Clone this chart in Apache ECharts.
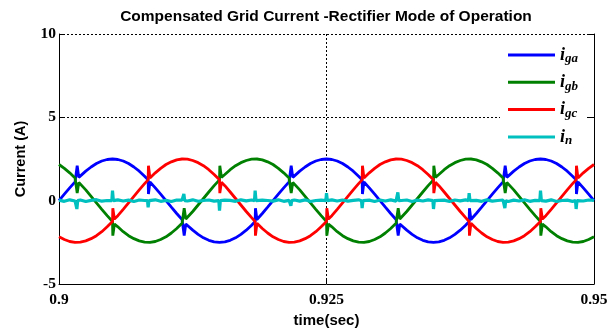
<!DOCTYPE html>
<html>
<head>
<meta charset="utf-8">
<script src="https://cdn.jsdelivr.net/npm/echarts@6/dist/echarts.min.js"></script>
<style>html,body{margin:0;padding:0;background:#fff}#c{width:612px;height:333px}</style>
</head>
<body>
<div id="c"></div>
<script>
// sampling grid of the waveforms (sec)
const timeStart = 0.9;
const timeStep = 0.0005;
const xTicks = [0.9, 0.925, 0.95];
const yTicks = [-5, 0, 5, 10];

// grid current phase a (A), read every 0.5 ms
const iga = [
 0, 0.39, 0.77, 1.13, 1.47, 1.77, 2.02, 2.23, 2.38, 2.47, 2.50, 2.47, 2.38, 2.23, 2.02, 1.77, 1.47, 1.13, 0.77, 0.39,
 0, -0.39, -0.77, -1.13, -1.47, -1.77, -2.02, -2.23, -2.38, -2.47, -2.50, -2.47, -2.38, -2.23, -2.02, -1.77, -1.47, -1.13, -0.77, -0.39,
 0, 0.39, 0.77, 1.13, 1.47, 1.77, 2.02, 2.23, 2.38, 2.47, 2.50, 2.47, 2.38, 2.23, 2.02, 1.77, 1.47, 1.13, 0.77, 0.39,
 0, -0.39, -0.77, -1.13, -1.47, -1.77, -2.02, -2.23, -2.38, -2.47, -2.50, -2.47, -2.38, -2.23, -2.02, -1.77, -1.47, -1.13, -0.77, -0.39,
 0, 0.39, 0.77, 1.13, 1.47, 1.77, 2.02, 2.23, 2.38, 2.47, 2.50, 2.47, 2.38, 2.23, 2.02, 1.77, 1.47, 1.13, 0.77, 0.39, 0
];
// phase b
const igb = [
 2.17, 1.94, 1.67, 1.36, 1.02, 0.65, 0.26, -0.13, -0.52, -0.90, -1.25, -1.57, -1.86, -2.10, -2.28, -2.41, -2.49, -2.50, -2.45, -2.33,
 -2.17, -1.94, -1.67, -1.36, -1.02, -0.65, -0.26, 0.13, 0.52, 0.90, 1.25, 1.57, 1.86, 2.10, 2.28, 2.41, 2.49, 2.50, 2.45, 2.33,
 2.17, 1.94, 1.67, 1.36, 1.02, 0.65, 0.26, -0.13, -0.52, -0.90, -1.25, -1.57, -1.86, -2.10, -2.28, -2.41, -2.49, -2.50, -2.45, -2.33,
 -2.17, -1.94, -1.67, -1.36, -1.02, -0.65, -0.26, 0.13, 0.52, 0.90, 1.25, 1.57, 1.86, 2.10, 2.28, 2.41, 2.49, 2.50, 2.45, 2.33,
 2.17, 1.94, 1.67, 1.36, 1.02, 0.65, 0.26, -0.13, -0.52, -0.90, -1.25, -1.57, -1.86, -2.10, -2.28, -2.41, -2.49, -2.50, -2.45, -2.33, -2.17
];
// phase c
const igc = [
 -2.17, -2.33, -2.45, -2.50, -2.49, -2.41, -2.28, -2.10, -1.86, -1.57, -1.25, -0.90, -0.52, -0.13, 0.26, 0.65, 1.02, 1.36, 1.67, 1.94,
 2.17, 2.33, 2.45, 2.50, 2.49, 2.41, 2.28, 2.10, 1.86, 1.57, 1.25, 0.90, 0.52, 0.13, -0.26, -0.65, -1.02, -1.36, -1.67, -1.94,
 -2.17, -2.33, -2.45, -2.50, -2.49, -2.41, -2.28, -2.10, -1.86, -1.57, -1.25, -0.90, -0.52, -0.13, 0.26, 0.65, 1.02, 1.36, 1.67, 1.94,
 2.17, 2.33, 2.45, 2.50, 2.49, 2.41, 2.28, 2.10, 1.86, 1.57, 1.25, 0.90, 0.52, 0.13, -0.26, -0.65, -1.02, -1.36, -1.67, -1.94,
 -2.17, -2.33, -2.45, -2.50, -2.49, -2.41, -2.28, -2.10, -1.86, -1.57, -1.25, -0.90, -0.52, -0.13, 0.26, 0.65, 1.02, 1.36, 1.67, 1.94, 2.17
];
// neutral current (small ripple around zero)
const ineu = [
 0.03, -0.04, 0.05, -0.02, 0.04, -0.05, 0.02, 0.06, -0.03, 0.01, -0.04, 0.05, -0.02, 0.03, -0.05, 0.04, 0.01, -0.03, 0.05, -0.04,
 0.02, -0.05, 0.04, 0.03, -0.02, 0.05, -0.04, 0.01, 0.04, -0.03, -0.05, 0.03, 0.02, -0.04, 0.05, -0.01, 0.04, -0.05, 0.03, 0.01,
 -0.03, 0.05, -0.04, 0.02, 0.04, -0.03, 0.05, -0.05, 0.01, 0.03, -0.04, 0.05, -0.02, 0.04, -0.03, 0.02, 0.05, -0.04, 0.03, -0.05,
 0.04, -0.02, 0.05, -0.03, 0.01, 0.04, -0.05, 0.03, -0.02, 0.05, -0.04, 0.02, 0.03, -0.05, 0.04, -0.01, 0.05, -0.03, 0.02, -0.04,
 0.05, -0.03, 0.01, 0.04, -0.05, 0.03, -0.02, 0.05, -0.04, 0.02, 0.04, -0.03, 0.05, -0.05, 0.01, 0.03, -0.04, 0.05, -0.02, 0.04, 0.02
];

// commutation notches: [time, value at crossing, spike value, value just after]
const igaSpikes = [
 [0.90167, 1.25, 2.10, 1.40], [0.90833, 1.25, 0.40, 1.10], [0.91167, -1.25, -2.10, -1.40], [0.91833, -1.25, -0.45, -1.10],
 [0.92167, 1.25, 2.10, 1.40], [0.92833, 1.25, 0.40, 1.10], [0.93167, -1.25, -2.10, -1.40], [0.93833, -1.25, -0.45, -1.10],
 [0.94167, 1.25, 2.10, 1.40], [0.94833, 1.25, 0.40, 1.10]
];
const igbSpikes = [
 [0.90167, 1.25, 0.45, 1.10], [0.905, -1.25, -2.10, -1.40], [0.91167, -1.25, -0.45, -1.10], [0.915, 1.25, 2.10, 1.40],
 [0.92167, 1.25, 0.45, 1.10], [0.925, -1.25, -2.10, -1.40], [0.93167, -1.25, -0.45, -1.10], [0.935, 1.25, 2.10, 1.40],
 [0.94167, 1.25, 0.45, 1.10], [0.945, -1.25, -2.10, -1.40]
];
const igcSpikes = [
 [0.905, -1.25, -0.45, -1.10], [0.90833, 1.25, 2.10, 1.40], [0.915, 1.25, 0.45, 1.10], [0.91833, -1.25, -2.10, -1.40],
 [0.925, -1.25, -0.45, -1.10], [0.92833, 1.25, 2.10, 1.40], [0.935, 1.25, 0.45, 1.10], [0.93833, -1.25, -2.10, -1.40],
 [0.945, -1.25, -0.45, -1.10], [0.94833, 1.25, 2.10, 1.40]
];
// neutral spikes: [time, spike value]
const inSpikes = [
 [0.90167, -0.5], [0.905, 0.6], [0.90833, -0.4], [0.91167, 0.4], [0.915, -0.6], [0.91833, 0.6], [0.92167, -0.3], [0.925, 0.45],
 [0.92833, -0.45], [0.93167, 0.5], [0.935, -0.5], [0.93833, 0.45], [0.94167, -0.45], [0.945, 0.6], [0.94833, -0.5]
];

const names = ['iga', 'igb', 'igc', 'in'];
const subs = {iga: 'ga', igb: 'gb', igc: 'gc', in: 'n'};
const colors = ['#0000ff', '#008000', '#ff0000', '#00bfbf'];

function baseSeries(vals) {
  return vals.map((v, i) => [Math.round((timeStart + i * timeStep) * 1e5) / 1e5, v]);
}
function withNotches(vals, spikes) {
  const pts = baseSeries(vals).map(p => [p[0], p[1], 0]);
  spikes.forEach(s => {
    pts.push([s[0], s[1], 1], [s[0] + 0.00003, s[2], 2], [s[0] + 0.00018, s[3], 3]);
  });
  pts.sort((a, b) => a[0] - b[0] || a[2] - b[2]);
  return pts.map(p => [p[0], p[1]]);
}
function withPulses(vals, spikes) {
  const pts = baseSeries(vals).map(p => [p[0], p[1], 0]);
  spikes.forEach(s => {
    pts.push([s[0] - 0.00006, 0, 1], [s[0], s[1], 2], [s[0] + 0.00008, 0, 3]);
  });
  pts.sort((a, b) => a[0] - b[0] || a[2] - b[2]);
  return pts.map(p => [p[0], p[1]]);
}

const seriesData = [
  withNotches(iga, igaSpikes),
  withNotches(igb, igbSpikes),
  withNotches(igc, igcSpikes),
  withPulses(ineu, inSpikes)
];

const chart = echarts.init(document.getElementById('c'), null, {renderer: 'canvas'});
const serif = 'Liberation Serif';
const sans = 'Liberation Sans';
chart.setOption({
  animation: false,
  backgroundColor: '#fff',
  title: {
    text: 'Compensated Grid Current -Rectifier Mode of Operation',
    left: 326, top: 9, padding: 0, textAlign: 'center',
    textStyle: {fontFamily: sans, fontWeight: 'bold', fontSize: 15.5, color: '#000'}
  },
  grid: {left: 59, right: 18, top: 34, bottom: 46},
  legend: {
    orient: 'vertical', left: 500, top: 41, padding: [5, 8, 8, 8],
    backgroundColor: '#fff', itemWidth: 47, itemHeight: 3, itemGap: 7.8,
    icon: 'rect', selectedMode: false,
    data: names,
    formatter: n => '{i|i}{s|' + subs[n] + '}',
    textStyle: {
      rich: {
        i: {fontFamily: serif, fontStyle: 'italic', fontWeight: 'bold', fontSize: 18, color: '#000', lineHeight: 20},
        s: {fontFamily: serif, fontStyle: 'italic', fontWeight: 'bold', fontSize: 13, color: '#000', verticalAlign: 'bottom', padding: [8, 0, 0, 0]}
      }
    }
  },
  xAxis: [{
    type: 'value', min: xTicks[0], max: xTicks[2], interval: xTicks[1] - xTicks[0],
    name: 'time(sec)', nameLocation: 'middle', nameGap: 29,
    nameTextStyle: {fontFamily: sans, fontWeight: 'bold', fontSize: 15, color: '#000'},
    axisLine: {show: true, onZero: false, lineStyle: {color: '#000', width: 1}},
    axisTick: {show: true, inside: true, length: 5, lineStyle: {color: '#000'}},
    axisLabel: {color: '#000', fontFamily: serif, fontWeight: 'bold', fontSize: 15.5, margin: 8,
      formatter: v => String(parseFloat(v.toFixed(3)))},
    splitLine: {show: true, lineStyle: {color: '#000', type: [2, 2], width: 1}}
  }],
  yAxis: [{
    type: 'value', min: yTicks[0], max: yTicks[3], interval: yTicks[1] - yTicks[0],
    name: 'Current (A)', nameLocation: 'middle', nameGap: 31, nameRotate: 90,
    nameTextStyle: {fontFamily: sans, fontWeight: 'bold', fontSize: 14.5, color: '#000'},
    axisLine: {show: true, onZero: false, lineStyle: {color: '#000', width: 1}},
    axisTick: {show: true, inside: true, length: 5, lineStyle: {color: '#000'}},
    axisLabel: {color: '#000', fontFamily: serif, fontWeight: 'bold', fontSize: 15.5, margin: 3},
    splitLine: {show: true, lineStyle: {color: '#000', type: [2, 2], width: 1}}
  }, {
    type: 'value', position: 'right', min: yTicks[0], max: yTicks[3], interval: yTicks[1] - yTicks[0],
    axisLine: {show: true, onZero: false, lineStyle: {color: '#000', width: 1}},
    axisTick: {show: true, inside: true, length: 5, lineStyle: {color: '#000'}},
    axisLabel: {show: false}, splitLine: {show: false}
  }],
  series: names.map((n, i) => ({
    name: n, type: 'line', data: seriesData[i], showSymbol: false, symbol: 'none',
    color: colors[i], lineStyle: {color: colors[i], width: i === 3 ? 3.2 : 2.8}, z: 2 + i
  }))
});
</script>
</body>
</html>
